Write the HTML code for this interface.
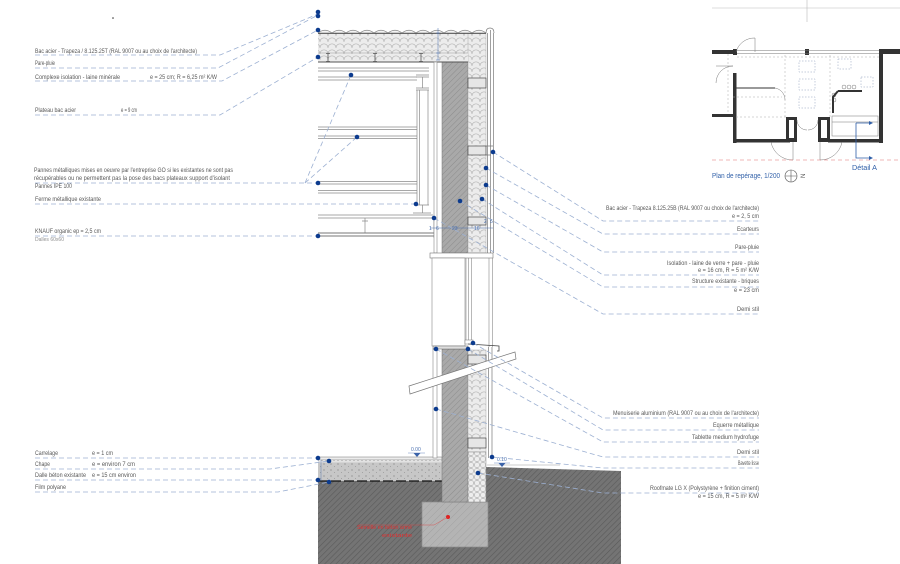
<!DOCTYPE html>
<html><head><meta charset="utf-8">
<style>
html,body{margin:0;padding:0;background:#fff;}
svg{display:block;}
text{font-family:"Liberation Sans Narrow","Liberation Sans",sans-serif;}
.l{font-size:6px;fill:#585858;}
.s{font-size:5px;fill:#909090;}
.b{font-size:5px;fill:#4a70b0;}
.d{stroke:#9cb0d2;stroke-width:0.8;stroke-dasharray:5 3;fill:none;}
.dot{fill:#0c3b8e;}
.t{stroke:#8a8a8a;stroke-width:0.7;fill:none;}
</style></head><body>
<svg width="900" height="564" viewBox="0 0 900 564" xmlns="http://www.w3.org/2000/svg">
<defs>
<pattern id="brick" width="4" height="4" patternUnits="userSpaceOnUse" patternTransform="rotate(45)">
<rect width="4" height="4" fill="#a9a9a9"/><line x1="0" y1="0" x2="0" y2="4" stroke="#8c8c8c" stroke-width="1"/></pattern>
<pattern id="earth" width="4" height="4" patternUnits="userSpaceOnUse" patternTransform="rotate(45)">
<rect width="4" height="4" fill="#747474"/><line x1="0" y1="0" x2="0" y2="4" stroke="#5a5a5a" stroke-width="1.2"/></pattern>
<pattern id="foot" width="5" height="5" patternUnits="userSpaceOnUse" patternTransform="rotate(45)">
<rect width="5" height="5" fill="#b4b4b4"/><line x1="0" y1="0" x2="0" y2="5" stroke="#a2a2a2" stroke-width="1"/></pattern>
<pattern id="ins" width="8" height="6" patternUnits="userSpaceOnUse">
<rect width="8" height="6" fill="#ececec"/><path d="M0 6 C0 0.5 8 0.5 8 6" stroke="#aaaaaa" stroke-width="0.55" fill="none"/></pattern>
<pattern id="circ" width="6" height="6" patternUnits="userSpaceOnUse">
<rect width="6" height="6" fill="#eeeeee"/><ellipse cx="3" cy="3" rx="2.6" ry="2.7" stroke="#9a9a9a" stroke-width="0.5" fill="none"/></pattern>
<pattern id="slab" width="7" height="6" patternUnits="userSpaceOnUse">
<rect width="7" height="6" fill="#c7c7c7"/><circle cx="2" cy="2" r="0.5" fill="#555"/><circle cx="5.5" cy="4.5" r="0.4" fill="#777"/></pattern>
<pattern id="chape" width="4" height="3" patternUnits="userSpaceOnUse">
<rect width="4" height="3" fill="#e2e2e2"/><circle cx="2" cy="1.5" r="0.5" fill="#888"/></pattern>
</defs>

<rect width="900" height="564" fill="#fff"/>
<circle cx="113" cy="18" r="0.8" fill="#333"/>

<!-- earth -->
<polygon points="318,481 486,481 486,467 621,471 621,564 318,564" fill="url(#earth)"/>
<line x1="487" y1="465" x2="560" y2="465" stroke="#999" stroke-width="0.6"/>

<!-- floor -->
<rect x="318" y="457" width="124" height="2.5" fill="#ececec" stroke="#777" stroke-width="0.5"/>
<rect x="318" y="459.5" width="124" height="3" fill="url(#chape)"/>
<rect x="318" y="462.5" width="124" height="18.5" fill="url(#slab)"/>
<line x1="318" y1="481" x2="442" y2="481" stroke="#111" stroke-width="1.3" stroke-dasharray="10 3"/>

<!-- footing -->
<rect x="422" y="502" width="66" height="45" fill="url(#foot)" stroke="#8a8a8a" stroke-width="0.7"/>

<!-- walls -->
<rect x="442" y="62" width="26" height="191" fill="url(#brick)" stroke="#777" stroke-width="0.5"/>
<rect x="442" y="349" width="26" height="153" fill="url(#brick)" stroke="#777" stroke-width="0.5"/>

<!-- insulation -->
<rect x="318" y="33" width="168" height="20" fill="url(#ins)"/>
<rect x="468" y="33" width="18" height="220" fill="url(#ins)" stroke="#999" stroke-width="0.4"/>
<rect x="468" y="350" width="18" height="102" fill="url(#ins)" stroke="#999" stroke-width="0.4"/>
<rect x="468" y="452" width="18" height="50" fill="url(#circ)" stroke="#888" stroke-width="0.5"/>
<g fill="#e6e6e6" stroke="#333" stroke-width="0.6">
<rect x="468" y="78" width="18" height="10"/>
<rect x="468" y="146" width="18" height="9"/>
<rect x="468" y="217" width="18" height="8"/>
<rect x="468" y="355" width="18" height="9"/>
<rect x="468" y="438" width="18" height="10"/>
</g>
<path d="M486 146 H493 M486 155 H491" stroke="#333" stroke-width="0.6"/>

<!-- plateau -->
<rect x="318" y="53" width="150" height="9" fill="url(#ins)"/>
<line x1="318" y1="53" x2="468" y2="53" stroke="#999" stroke-width="0.5"/>
<line x1="318" y1="62" x2="468" y2="62" stroke="#555" stroke-width="1"/>
<g stroke="#555" stroke-width="0.8" fill="none">
<path d="M326 53.5 h4 M328 53.5 v8 M326 61.5 h4"/>
<path d="M373 53.5 h4 M375 53.5 v8 M373 61.5 h4"/>
<path d="M419 53.5 h4 M421 53.5 v8 M419 61.5 h4"/>
</g>

<!-- corrugated roof -->
<path d="M318 33 Q325 27.5 332 33 Q339 27.5 346 33 Q353 27.5 360 33 Q367 27.5 374 33 Q381 27.5 388 33 Q395 27.5 402 33 Q409 27.5 416 33 Q423 27.5 430 33 Q437 27.5 444 33 Q451 27.5 458 33 Q465 27.5 472 33 Q479 27.5 486 33" stroke="#888" stroke-width="0.7" fill="#f4f4f4"/>
<line x1="318" y1="33.3" x2="486" y2="33.3" stroke="#555" stroke-width="1.1"/>

<!-- cladding -->
<path d="M486 33 Q486 28 490 28 Q494 28 494 33" stroke="#777" stroke-width="0.7" fill="none"/>
<g stroke="#777" stroke-width="0.7">
<line x1="487.5" y1="33" x2="487.5" y2="253"/>
<line x1="490.5" y1="30" x2="490.5" y2="253"/>
<line x1="493.5" y1="33" x2="493.5" y2="253"/>
<line x1="488.5" y1="347" x2="488.5" y2="458"/>
<line x1="492" y1="347" x2="492" y2="458"/>
</g>

<!-- interior truss -->
<g class="t">
<path d="M318 68 H429 M318 71 H429"/>
<path d="M318 77 H417 M318 80 H417"/>
<path d="M318 127 H417 M318 129.5 H417"/>
<path d="M318 136 H417 M318 138.5 H417"/>
<path d="M318 181.5 H417 M318 184 H417"/>
<path d="M318 190.5 H417 M318 193 H417"/>
<path d="M318 215 H433 M318 218 H433"/>
<path d="M417 90 V205 M419.5 90 V205 M428 90 V205"/>
<path d="M416 75 h13 M416 77 h13 M422.5 77 v11 M416 88 h13 M416 90 h13"/>
<path d="M416 205 h13 M422.5 205 v8 M413 213 h18"/>
<path d="M365 218 V233 M362 221 h6"/>
<path d="M434 218 V238"/>
</g>
<path d="M318 233 H434 M318 236 H434" stroke="#777" stroke-width="0.9"/>

<!-- lining -->
<rect x="434" y="62" width="3" height="191" fill="#fff" stroke="#888" stroke-width="0.6"/>
<rect x="433" y="349" width="4" height="109" fill="#fff" stroke="#888" stroke-width="0.6"/>

<!-- window -->
<rect x="430" y="253" width="63" height="5" fill="#fff" stroke="#777" stroke-width="0.6"/>
<rect x="432" y="258" width="33" height="88" fill="#fff" stroke="#888" stroke-width="0.6"/>
<g stroke="#888" stroke-width="0.6">
<line x1="466" y1="258" x2="466" y2="343"/>
<line x1="468.5" y1="258" x2="468.5" y2="343"/>
<line x1="471.5" y1="258" x2="471.5" y2="343"/>
<line x1="489" y1="258" x2="489" y2="347"/>
<line x1="492.5" y1="258" x2="492.5" y2="347"/>
</g>
<rect x="465" y="340" width="8" height="4" fill="#fff" stroke="#777" stroke-width="0.5"/>
<rect x="433" y="346" width="35" height="3" fill="#ddd" stroke="#666" stroke-width="0.5"/>
<path d="M468 344 L499 346 L499 351 L497 351" stroke="#444" stroke-width="0.8" fill="none"/>

<!-- pipe -->
<polygon points="409,386 515,352 516,359 410,394" fill="#fff" stroke="#777" stroke-width="0.7"/>

<!-- levels & dims -->
<text x="411" y="451" class="b">0.00</text>
<path d="M413.5 453 h7 l-3.5 4 z" fill="#3a62a8"/>
<line x1="408" y1="453" x2="425" y2="453" stroke="#4a70b0" stroke-width="0.4"/>
<text x="497" y="461" class="b">0.10</text>
<path d="M498.5 463 h7 l-3.5 4 z" fill="#3a62a8"/>
<line x1="494" y1="463" x2="510" y2="463" stroke="#4a70b0" stroke-width="0.4"/>
<line x1="430" y1="228" x2="493" y2="228" stroke="#4a70b0" stroke-width="0.5"/>
<text x="429" y="230" class="b">1</text><text x="436" y="230" class="b">6</text>
<text x="452" y="230" class="b">23</text><text x="474" y="230" class="b">16</text>
<text x="484" y="223" class="b">2</text><text x="490" y="223" class="b">5</text>
<line x1="438" y1="28" x2="438" y2="60" stroke="#4a70b0" stroke-width="0.5"/>
<path d="M436 33 h4 M436 53 h4 M436 60 h4" stroke="#4a70b0" stroke-width="0.5"/>
<line x1="321" y1="460" x2="321" y2="481" stroke="#4a70b0" stroke-width="0.4"/>

<!-- red annotation -->
<circle cx="448" cy="517" r="2" fill="#e02020"/>
<path d="M448 517 L434 525 H358" stroke="#e04040" stroke-width="0.4" fill="none"/>
<text x="357" y="529" font-size="5" fill="#e03030" textLength="55" lengthAdjust="spacingAndGlyphs">Semelle en béton armé</text>
<text x="412" y="537" font-size="5" fill="#e03030" text-anchor="end" textLength="30" lengthAdjust="spacingAndGlyphs">existante</text>

<!-- leaders -->
<g class="d">
<path d="M35 55 H220 L318 14"/>
<path d="M35 68 H218 L318 15"/>
<path d="M35 81 H222 L318 30"/>
<path d="M35 115 H220 L318 57"/>
<path d="M35 183 H318"/>
<path d="M305 183 L351 75"/>
<path d="M305 183 L357 137"/>
<path d="M35 204 H416"/>
<path d="M35 236 H318"/>
<path d="M35 458 H318"/>
<path d="M35 469 H270 L329 461"/>
<path d="M35 480 H318"/>
<path d="M35 492 H278 L329 482"/>
<path d="M493 152 L603 221 H759"/>
<path d="M486 168 L603 234 H759"/>
<path d="M486 185 L603 252 H759"/>
<path d="M482 199 L603 275 H759"/>
<path d="M460 201 L603 287 H759"/>
<path d="M434 218 L603 314 H759"/>
<path d="M473 343 L603 418 H759"/>
<path d="M468 349 L603 430 H759"/>
<path d="M436 349 L603 442 H759"/>
<path d="M436 409 L603 457 H759"/>
<path d="M492 457 L603 468 H759"/>
<path d="M478 473 L603 493 H759"/>
</g>

<!-- dots -->
<g class="dot">
<circle cx="318" cy="12" r="2.3"/><circle cx="318" cy="16" r="2.3"/>
<circle cx="318" cy="30" r="2.3"/><circle cx="318" cy="57" r="2.3"/>
<circle cx="351" cy="75" r="2.3"/><circle cx="357" cy="137" r="2.3"/>
<circle cx="318" cy="183" r="2.3"/><circle cx="416" cy="204" r="2.3"/>
<circle cx="318" cy="236" r="2.3"/>
<circle cx="493" cy="152" r="2.3"/><circle cx="486" cy="168" r="2.3"/>
<circle cx="486" cy="185" r="2.3"/><circle cx="482" cy="199" r="2.3"/>
<circle cx="460" cy="201" r="2.3"/><circle cx="434" cy="218" r="2.3"/>
<circle cx="473" cy="343" r="2.3"/><circle cx="468" cy="349" r="2.3"/>
<circle cx="436" cy="349" r="2.3"/><circle cx="436" cy="409" r="2.3"/>
<circle cx="492" cy="457" r="2.3"/><circle cx="478" cy="473" r="2.3"/>
<circle cx="318" cy="458" r="2.3"/><circle cx="329" cy="461" r="2.3"/>
<circle cx="318" cy="480" r="2.3"/><circle cx="329" cy="482" r="2.3"/>
</g>

<!-- left labels -->
<g class="l">
<text x="35" y="53" textLength="162" lengthAdjust="spacingAndGlyphs">Bac acier - Trapeza / 8.125.25T (RAL 9007 ou au choix de l'architecte)</text>
<text x="35" y="65" textLength="20" lengthAdjust="spacingAndGlyphs">Pare-pluie</text>
<text x="35" y="79" textLength="85" lengthAdjust="spacingAndGlyphs">Complexe isolation - laine minérale</text>
<text x="150" y="79" textLength="67" lengthAdjust="spacingAndGlyphs">e = 25 cm; R = 6,25 m² K/W</text>
<text x="35" y="112" textLength="41" lengthAdjust="spacingAndGlyphs">Plateau bac acier</text>
<text x="121" y="112" textLength="16" lengthAdjust="spacingAndGlyphs">e = 9 cm</text>
<text x="34" y="172" textLength="199" lengthAdjust="spacingAndGlyphs">Pannes métalliques mises en oeuvre par l'entreprise GO si les existantes ne sont pas</text>
<text x="34" y="180" textLength="196" lengthAdjust="spacingAndGlyphs">récupérables ou ne permettent pas la pose des bacs plateaux support d'isolant</text>
<text x="35" y="188" textLength="37" lengthAdjust="spacingAndGlyphs">Pannes IPE 100</text>
<text x="35" y="201" textLength="66" lengthAdjust="spacingAndGlyphs">Ferme métallique existante</text>
<text x="35" y="233" textLength="66" lengthAdjust="spacingAndGlyphs">KNAUF organic ep = 2,5 cm</text>
<text x="35" y="455" textLength="23" lengthAdjust="spacingAndGlyphs">Carrelage</text>
<text x="92" y="455" textLength="21" lengthAdjust="spacingAndGlyphs">e = 1 cm</text>
<text x="35" y="466" textLength="15" lengthAdjust="spacingAndGlyphs">Chape</text>
<text x="92" y="466" textLength="43" lengthAdjust="spacingAndGlyphs">e = environ 7 cm</text>
<text x="35" y="477" textLength="51" lengthAdjust="spacingAndGlyphs">Dalle béton existante</text>
<text x="92" y="477" textLength="44" lengthAdjust="spacingAndGlyphs">e = 15 cm environ</text>
<text x="35" y="489" textLength="31" lengthAdjust="spacingAndGlyphs">Film polyane</text>
</g>
<text x="35" y="241" class="s" textLength="29" lengthAdjust="spacingAndGlyphs">Dalles 60x60</text>

<!-- right labels -->
<g class="l" text-anchor="end">
<text x="759" y="210" textLength="153" lengthAdjust="spacingAndGlyphs">Bac acier - Trapeza 8.125.25B (RAL 9007 ou choix de l'architecte)</text>
<text x="759" y="218" textLength="27" lengthAdjust="spacingAndGlyphs">e = 2, 5 cm</text>
<text x="759" y="231" textLength="22" lengthAdjust="spacingAndGlyphs">Ecarteurs</text>
<text x="759" y="249" textLength="24" lengthAdjust="spacingAndGlyphs">Pare-pluie</text>
<text x="759" y="265" textLength="92" lengthAdjust="spacingAndGlyphs">Isolation - laine de verre + pare - pluie</text>
<text x="759" y="272" textLength="61" lengthAdjust="spacingAndGlyphs">e =  16 cm, R = 5 m² K/W</text>
<text x="759" y="283" textLength="67" lengthAdjust="spacingAndGlyphs">Structure existante - briques</text>
<text x="759" y="292" textLength="25" lengthAdjust="spacingAndGlyphs">e = 23 cm</text>
<text x="759" y="311" textLength="22" lengthAdjust="spacingAndGlyphs">Demi stil</text>
<text x="759" y="415" textLength="146" lengthAdjust="spacingAndGlyphs">Menuiserie aluminium (RAL 9007 ou au choix de l'architecte)</text>
<text x="759" y="427" textLength="46" lengthAdjust="spacingAndGlyphs">Equerre métallique</text>
<text x="759" y="439" textLength="67" lengthAdjust="spacingAndGlyphs">Tablette medium hydrofuge</text>
<text x="759" y="454" textLength="22" lengthAdjust="spacingAndGlyphs">Demi stil</text>
<text x="759" y="465" textLength="21" lengthAdjust="spacingAndGlyphs">Bavette lisse</text>
<text x="759" y="490" textLength="109" lengthAdjust="spacingAndGlyphs">Roofmate LG X (Polystyrène + finition ciment)</text>
<text x="759" y="498" textLength="61" lengthAdjust="spacingAndGlyphs">e = 15 cm, R = 5 m² K/W</text>
</g>

<!-- plan -->
<line x1="712" y1="8" x2="900" y2="8" stroke="#bbb" stroke-width="0.6"/>
<line x1="807" y1="0" x2="807" y2="22" stroke="#bbb" stroke-width="0.6"/>
<g fill="#333">
<rect x="712" y="50" width="21" height="4"/>
<rect x="733" y="49" width="4" height="6"/>
<rect x="805" y="49" width="4" height="6"/>
<rect x="879" y="49" width="21" height="5"/>
<rect x="879" y="49" width="4" height="94"/>
<rect x="733" y="73" width="3.5" height="70"/>
<rect x="733" y="139" width="57" height="3.5"/>
<rect x="786" y="117" width="11" height="25"/>
<rect x="818" y="117" width="12" height="25"/>
<rect x="828" y="139" width="54" height="3.5"/>
<rect x="712" y="114" width="21" height="3"/>
</g>
<rect x="789" y="120" width="5" height="18" fill="#fff"/>
<rect x="821" y="120" width="6" height="18" fill="#fff"/>
<g stroke="#777" stroke-width="0.5" fill="none">
<line x1="737" y1="50.5" x2="879" y2="50.5"/>
<line x1="737" y1="53.5" x2="879" y2="53.5"/>
<line x1="733" y1="88" x2="775" y2="88" stroke="#333" stroke-width="1"/>
<path d="M755 52 V38 M736 52 A19 19 0 0 1 755 38"/>
<path d="M716 83 A17 17 0 0 1 733 66 M733 66 H716"/>
<path d="M793 142 V160 M771 142 A22 22 0 0 0 793 160"/>
<path d="M820 142 V160 M842 142 A22 22 0 0 1 820 160"/>
<path d="M797 120 A10 10 0 0 0 807 130 M818 120 A10 10 0 0 1 808 130"/>
<path d="M775 88 A12 12 0 0 1 785 100"/>
<rect x="832" y="116" width="46" height="20"/>
<line x1="832" y1="122" x2="878" y2="122"/>
<circle cx="844" cy="87" r="2"/><circle cx="849" cy="87" r="2"/><circle cx="854" cy="87" r="2"/>
<circle cx="834" cy="95" r="2"/><circle cx="834" cy="100" r="2"/>
</g>
<g stroke="#aaa" stroke-width="0.5" stroke-dasharray="2 2" fill="none">
<line x1="733" y1="97" x2="782" y2="97"/>
<line x1="785" y1="55" x2="785" y2="117"/>
<line x1="830" y1="55" x2="830" y2="117"/>
<line x1="737" y1="57" x2="879" y2="57"/>
<line x1="728" y1="54" x2="728" y2="114"/>
<line x1="736" y1="117" x2="786" y2="117"/>
</g>
<g stroke="#8a9ab8" stroke-width="0.5" stroke-dasharray="1.5 1.5" fill="none">
<rect x="799" y="61" width="16" height="11"/>
<rect x="799" y="79" width="16" height="11"/>
<rect x="799" y="97" width="16" height="11"/>
<rect x="838" y="59" width="13" height="10"/>
<rect x="861" y="77" width="12" height="10"/>
</g>
<path d="M838 91 H862 M838 91 L833 97 V113" stroke="#333" stroke-width="2" fill="none"/>
<line x1="712" y1="160" x2="900" y2="160" stroke="#e07070" stroke-width="0.6" stroke-dasharray="4 3"/>
<g stroke="#2f5fa8" stroke-width="0.8" fill="none">
<path d="M856 123 H869 M856 123 V158 H869"/>
</g>
<path d="M869 121 L873 123 L869 125 Z M869 156 L873 158 L869 160 Z" fill="#2f5fa8"/>
<text x="852" y="170" font-size="7" fill="#2f5fa8" textLength="25" lengthAdjust="spacingAndGlyphs">Détail A</text>
<text x="712" y="178" font-size="7" fill="#2f5fa8" textLength="68" lengthAdjust="spacingAndGlyphs">Plan de repérage, 1/200</text>
<circle cx="791" cy="176" r="6" stroke="#555" stroke-width="0.6" fill="none"/>
<path d="M785 176 H797 M791 170 V182" stroke="#555" stroke-width="0.6"/>
<text x="801" y="178" font-size="6" fill="#555" transform="rotate(-90 803 176)">N</text>
</svg>
</body></html>
